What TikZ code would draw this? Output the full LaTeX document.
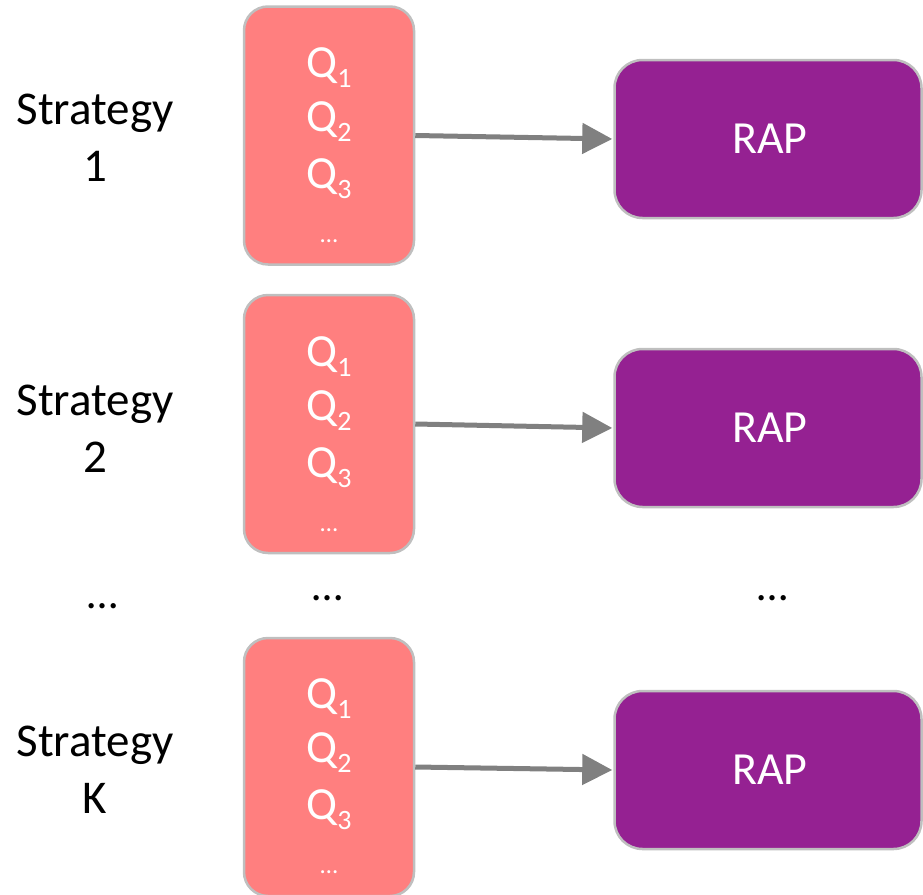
\documentclass[tikz,border=0pt]{standalone}
\usepackage{fontspec}
\setmainfont{Carlito}
\usetikzlibrary{arrows.meta}
\definecolor{qfill}{HTML}{FF7F7F}
\definecolor{rapfill}{HTML}{952192}
\definecolor{edge}{HTML}{BFBFBF}
\definecolor{arrowgray}{HTML}{808080}
\newcommand{\qsub}[1]{Q\raisebox{-0.22em}{\fontsize{28}{28}\selectfont #1}}
\tikzset{
  qbox/.style={draw=edge, line width=2.5pt, fill=qfill, rounded corners=24pt,
    minimum width=170pt, minimum height=258pt, inner sep=0pt},
  rapbox/.style={draw=edge, line width=2.5pt, fill=rapfill, rounded corners=28pt,
    minimum width=307pt, minimum height=158pt, inner sep=0pt},
  qtext/.style={text=white, font=\fontsize{46}{55}\selectfont, inner sep=0pt, anchor=base},
  qdots/.style={text=white, font=\fontsize{25}{25}\selectfont, inner sep=0pt, anchor=base},
  raptext/.style={text=white, font=\fontsize{46}{55}\selectfont, inner sep=0pt},
  label/.style={text=black, font=\fontsize{47}{57}\selectfont, align=center, inner sep=0pt},
  gap/.style={text=black, font=\fontsize{44}{44}\selectfont, inner sep=0pt},
  link/.style={draw=arrowgray, line width=5pt, -{Triangle[length=30pt,width=30pt]}, shorten >=1pt}
}
\begin{document}
\begin{tikzpicture}[x=1pt, y=-1pt]
\useasboundingbox (0,0) rectangle (923,894);

% query stacks
\node[qbox] (q1) at (329,135.5) {};
\node[qbox] (q2) at (329,424) {};
\node[qbox] (q3) at (329,767) {};

% RAP blocks
\node[rapbox] (r1) at (768,139) {};
\node[rapbox] (r2) at (768,428) {};
\node[rapbox] (r3) at (768,770) {};

\node[raptext] (t1) at ([xshift=2pt]r1) {RAP};
\node[raptext] (t2) at ([xshift=2pt]r2) {RAP};
\node[raptext] (t3) at ([xshift=2pt]r3) {RAP};

% query labels inside the stacks
\foreach \n/\dy in {1/0, 2/289, 3/631} {
  \node[qtext] (q\n a) at (329,{77+\dy}) {\qsub{1}};
  \node[qtext] (q\n b) at (329,{131+\dy}) {\qsub{2}};
  \node[qtext] (q\n c) at (329,{188+\dy}) {\qsub{3}};
  \node[qdots] (q\n d) at (329,{242+\dy}) {…};
}

% strategy labels
\node[label] (s1) at (95,138) {Strategy\\1};
\node[label] (s2) at (95,429) {Strategy\\2};
\node[label] (s3) at (95,770) {Strategy\\K};

% gap markers
\node[gap] (g1) at (103,606) {…};
\node[gap] (g2) at (328,598) {…};
\node[gap] (g3) at (773,598) {…};

% connectors
\draw[link] (q1.east) -- (r1.west);
\draw[link] (q2.east) -- (r2.west);
\draw[link] (q3.east) -- (r3.west);
\end{tikzpicture}
\end{document}
